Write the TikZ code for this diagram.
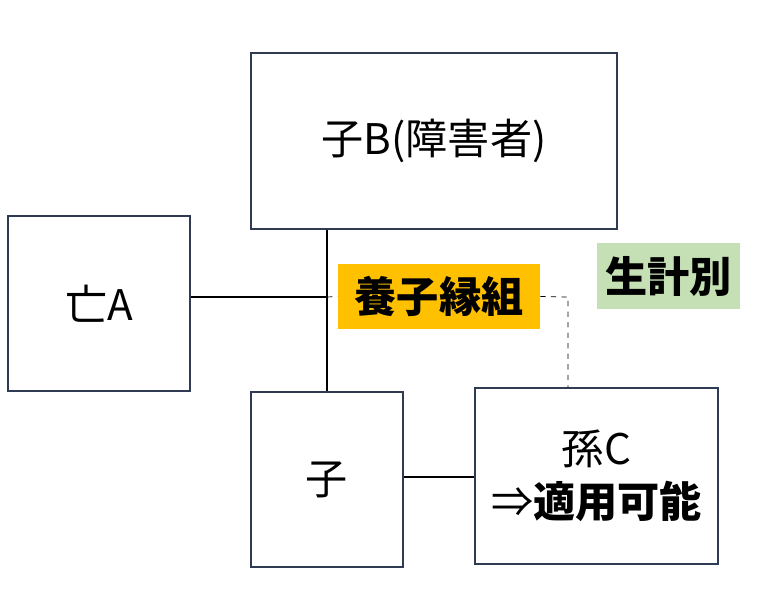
\documentclass[tikz,border=0pt]{standalone}
\usepackage{fontspec}
\setmainfont{Noto Sans CJK JP}
\definecolor{tagorange}{HTML}{FFC000}
\definecolor{taggreen}{HTML}{C5E0B4}
\definecolor{boxline}{HTML}{2F3B52}
\begin{document}
\begin{tikzpicture}[x=0.02cm, y=-0.02cm,
    person/.style={draw=boxline, semithick, fill=white, font=\fontsize{24}{30}\selectfont},
    tag/.style={inner sep=0pt, font=\fontsize{24}{28}\selectfont\bfseries}]
    \useasboundingbox (0, 0) rectangle (770, 592);

    % persons
    \node (B) [person, minimum width=366*0.02cm, minimum height=176*0.02cm] at (434, 141) {子B(障害者)};
    \node (A) [person, minimum width=182*0.02cm, minimum height=175*0.02cm] at (99, 303.5) {亡A};
    \node (K) [person, minimum width=152*0.02cm, minimum height=175*0.02cm] at (327, 479.5) {子};
    \node (C) [person, minimum width=243*0.02cm, minimum height=176*0.02cm, align=center] at (596.5, 476) {孫C\\⇒\textbf{適用可能}};

    % tags
    \node (adopt) [tag, fill=tagorange, minimum width=202*0.02cm, minimum height=65*0.02cm] at (439, 296.5) {養子縁組};
    \node (sep) [tag, fill=taggreen, minimum width=143*0.02cm, minimum height=66*0.02cm] at (668.5, 276) {生計別};

    % lines
    \coordinate (mid) at (327, 297);
    \coordinate (bend) at (568, 297);
    \draw [very thick] (B.south -| mid) -- (K.north -| mid);
    \draw [very thick] (A.east |- mid) -- (mid);
    \draw [thin, dashed] (mid) -- (adopt.west);
    \draw [thin, dashed] (adopt.east) -- (bend) -- (C.north -| bend);
    \draw [very thick] (K.east |- 0, 477) -- (C.west |- 0, 477);
\end{tikzpicture}
\end{document}
